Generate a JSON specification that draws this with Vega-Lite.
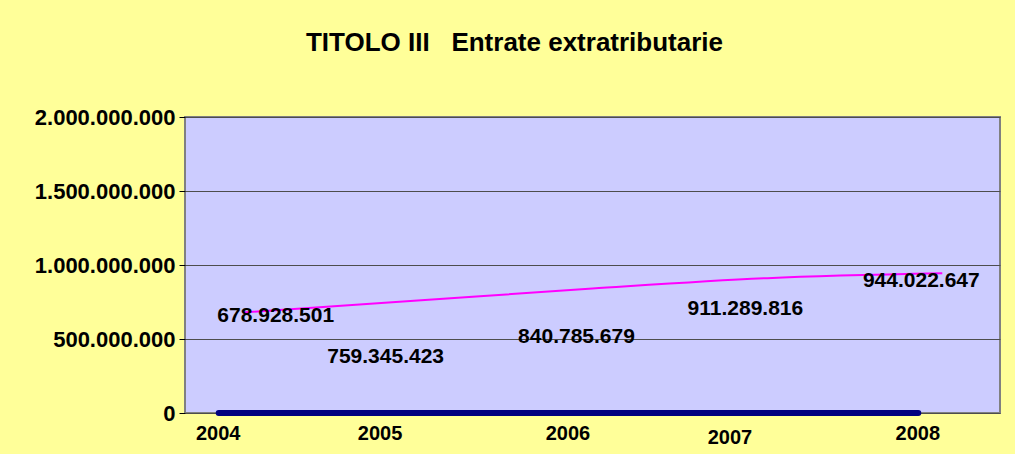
{
  "$schema": "https://vega.github.io/schema/vega-lite/v6.json",
  "width": 815,
  "height": 296,
  "autosize": "none",
  "padding": {"left": 185, "top": 117, "right": 15, "bottom": 41},
  "background": "#FFFF99",
  "config": {
    "locale": {"number": {"decimal": ",", "thousands": ".", "grouping": [3], "currency": ["€", ""]}},
    "view": {"fill": "#CCCCFF", "stroke": "#808080", "strokeWidth": 2},
    "font": "Liberation Sans"
  },
  "title": {
    "text": "TITOLO III\u00a0\u00a0\u00a0Entrate extratributarie",
    "font": "Liberation Sans",
    "fontSize": 26,
    "fontWeight": "bold",
    "color": "#000000",
    "anchor": "middle",
    "frame": "group",
    "baseline": "alphabetic",
    "offset": 29,
    "dx": -78
  },
  "data": {
    "values": [
      {"year": "2004", "series": "Entrate", "value": 678928501},
      {"year": "2005", "series": "Entrate", "value": 759345423},
      {"year": "2006", "series": "Entrate", "value": 840785679},
      {"year": "2007", "series": "Entrate", "value": 911289816},
      {"year": "2008", "series": "Entrate", "value": 944022647},
      {"year": "2004", "series": "Base", "value": 0},
      {"year": "2005", "series": "Base", "value": 0},
      {"year": "2006", "series": "Base", "value": 0},
      {"year": "2007", "series": "Base", "value": 0},
      {"year": "2008", "series": "Base", "value": 0}
    ]
  },
  "encoding": {
    "x": {
      "field": "year",
      "type": "ordinal",
      "scale": {"type": "point", "padding": 0.33},
      "axis": {
        "title": null,
        "labelAngle": 0,
        "ticks": false,
        "domain": false,
        "labelFont": "Liberation Sans",
        "labelFontSize": 20,
        "labelFontWeight": "bold",
        "labelColor": "#000000",
        "labelOffset": {"condition": {"test": "datum.label == '2005' || datum.label == '2007'", "value": -38}, "value": -25},
        "labelPadding": {"condition": {"test": "datum.label == '2007'", "value": 14}, "value": 10}
      }
    },
    "y": {
      "field": "value",
      "type": "quantitative",
      "scale": {"domain": [0, 2000000000]},
      "axis": {
        "title": null,
        "values": [0, 500000000, 1000000000, 1500000000, 2000000000],
        "format": ",d",
        "grid": true,
        "gridColor": "#4D4D4D",
        "gridWidth": 1,
        "domain": false,
        "tickSize": 6,
        "tickColor": "#000000",
        "labelFont": "Liberation Sans",
        "labelFontSize": 22,
        "labelFontWeight": "bold",
        "labelColor": "#000000",
        "labelPadding": 4
      }
    }
  },
  "layer": [
    {
      "transform": [{"filter": "datum.series == 'Base'"}],
      "mark": {"type": "line", "color": "#000080", "strokeWidth": 6, "strokeCap": "round", "xOffset": -24}
    },
    {
      "transform": [{"filter": "datum.series == 'Entrate'"}],
      "mark": {"type": "line", "color": "#FF00FF", "strokeWidth": 2, "interpolate": "monotone"}
    },
    {
      "transform": [{"filter": "datum.series == 'Entrate' && datum.year == '2004'"}],
      "mark": {"type": "text", "font": "Liberation Sans", "fontSize": 21, "fontWeight": "bold", "color": "#000000", "dx": 33, "dy": 3},
      "encoding": {"text": {"field": "value", "type": "quantitative", "format": ",d"}}
    },
    {
      "transform": [{"filter": "datum.series == 'Entrate' && datum.year == '2005'"}],
      "mark": {"type": "text", "font": "Liberation Sans", "fontSize": 21, "fontWeight": "bold", "color": "#000000", "dx": -32, "dy": 56},
      "encoding": {"text": {"field": "value", "type": "quantitative", "format": ",d"}}
    },
    {
      "transform": [{"filter": "datum.series == 'Entrate' && datum.year == '2006'"}],
      "mark": {"type": "text", "font": "Liberation Sans", "fontSize": 21, "fontWeight": "bold", "color": "#000000", "dx": -16, "dy": 48},
      "encoding": {"text": {"field": "value", "type": "quantitative", "format": ",d"}}
    },
    {
      "transform": [{"filter": "datum.series == 'Entrate' && datum.year == '2007'"}],
      "mark": {"type": "text", "font": "Liberation Sans", "fontSize": 21, "fontWeight": "bold", "color": "#000000", "dx": -22, "dy": 31},
      "encoding": {"text": {"field": "value", "type": "quantitative", "format": ",d"}}
    },
    {
      "transform": [{"filter": "datum.series == 'Entrate' && datum.year == '2008'"}],
      "mark": {"type": "text", "font": "Liberation Sans", "fontSize": 21, "fontWeight": "bold", "color": "#000000", "dx": -21, "dy": 8},
      "encoding": {"text": {"field": "value", "type": "quantitative", "format": ",d"}}
    }
  ]
}
